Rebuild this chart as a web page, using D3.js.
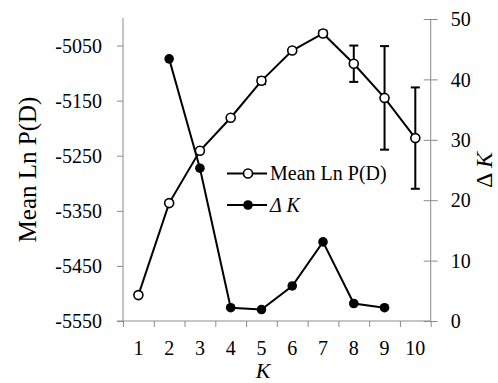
<!DOCTYPE html>
<html>
<head>
<meta charset="utf-8">
<script src="https://cdn.jsdelivr.net/npm/d3@7"></script>
<style>
  body { margin: 0; background: #fff; }
  svg text { font-family: "Liberation Serif", Tinos, "Times New Roman", "DejaVu Serif", serif !important; fill: #000; }
</style>
</head>
<body>
<svg id="chart" width="498" height="383"></svg>
<script>
// K-Werte und Daten
const kValues = [1, 2, 3, 4, 5, 6, 7, 8, 9, 10];
const meanLnP = [-5503, -5336, -5241, -5181, -5114, -5059, -5028, -5083, -5145, -5218];
const meanLnPErr = [0, 0, 0, 0, 6, 0, 5, 33, 94, 92];
const deltaK = [null, 43.4, 25.3, 2.2, 1.9, 5.8, 13.1, 2.9, 2.2, null];
const leftTicks = [-5550, -5450, -5350, -5250, -5150, -5050];
const rightTicks = [0, 10, 20, 30, 40, 50];

const svg = d3.select("#chart");
const axisColor = "#8a8a8a";

const x = d3.scaleBand().domain(kValues).range([123, 430.7]);
const xc = k => x(k) + x.bandwidth() / 2;
const yL = d3.scaleLinear().domain([-5550, -5000]).range([321, 18]);
const yR = d3.scaleLinear().domain([0, 50]).range([321, 19]);

// linke Achse
const gL = svg.append("g").attr("transform", "translate(123,0)")
    .call(d3.axisLeft(yL).tickValues(leftTicks).tickSize(6).tickPadding(15).tickFormat(d => d));
gL.attr("font-family", null);
gL.select(".domain").attr("stroke", axisColor).attr("d", `M0,${yL(-5000)}V${yL(-5550)}`);
gL.selectAll(".tick line").attr("stroke", axisColor);
gL.selectAll(".tick text").style("font-size", "20px").attr("dy", "0.33em");

// rechte Achse
const gR = svg.append("g").attr("transform", "translate(430.7,0)")
    .call(d3.axisRight(yR).tickValues(rightTicks).tickSize(7).tickPadding(13));
gR.attr("font-family", null);
gR.select(".domain").attr("stroke", axisColor).attr("d", `M0,${yR(50)}V${yR(0)}`);
gR.selectAll(".tick line").attr("stroke", axisColor).attr("x1", -7);
gR.selectAll(".tick text").style("font-size", "20px").attr("dy", "0.33em");

// x-Achse
const xLin = d3.scaleLinear().domain([0, 10]).range([123, 430.7]);
const gX = svg.append("g").attr("transform", "translate(0,321)")
    .call(d3.axisBottom(xLin).tickValues(d3.range(0, 11)).tickSize(6).tickFormat(""));
gX.select(".domain").attr("stroke", axisColor).attr("d", "M117,0H430.7");
gX.selectAll(".tick line").attr("stroke", axisColor);

const gXL = svg.append("g").attr("transform", "translate(0,321)")
    .call(d3.axisBottom(x).tickSize(0).tickPadding(20));
gXL.attr("font-family", null);
gXL.select(".domain").remove();
gXL.selectAll(".tick text").style("font-size", "20px");

// Achsentitel
svg.append("text")
    .attr("transform", `translate(36,${(18 + 321) / 2}) rotate(-90)`)
    .attr("text-anchor", "middle")
    .style("font-size", "25px")
    .text("Mean Ln P(D)");

svg.append("text")
    .attr("transform", `translate(492,170) rotate(-90)`)
    .attr("text-anchor", "middle")
    .style("font-size", "24px")
    .html('Δ <tspan font-style="italic">K</tspan>');

svg.append("text")
    .attr("x", 263).attr("y", 378)
    .attr("text-anchor", "middle")
    .style("font-size", "22px")
    .style("font-style", "italic")
    .text("K");

// Fehlerbalken
const errData = kValues.map((k, i) => ({ k, v: meanLnP[i], e: meanLnPErr[i] })).filter(d => d.e > 0);
const eb = svg.append("g").attr("stroke", "#000").attr("stroke-width", 2);
errData.forEach(d => {
    const cx = xc(d.k);
    eb.append("line").attr("x1", cx).attr("x2", cx).attr("y1", yL(d.v + d.e)).attr("y2", yL(d.v - d.e));
    eb.append("line").attr("x1", cx - 4.5).attr("x2", cx + 4.5).attr("y1", yL(d.v + d.e)).attr("y2", yL(d.v + d.e));
    eb.append("line").attr("x1", cx - 4.5).attr("x2", cx + 4.5).attr("y1", yL(d.v - d.e)).attr("y2", yL(d.v - d.e));
});

// Linien
const lnData = kValues.map((k, i) => ({ k, v: meanLnP[i] }));
const dkData = kValues.map((k, i) => ({ k, v: deltaK[i] })).filter(d => d.v !== null);

svg.append("path").datum(lnData)
    .attr("fill", "none").attr("stroke", "#000").attr("stroke-width", 2)
    .attr("d", d3.line().x(d => xc(d.k)).y(d => yL(d.v)));
svg.append("path").datum(dkData)
    .attr("fill", "none").attr("stroke", "#000").attr("stroke-width", 2)
    .attr("d", d3.line().x(d => xc(d.k)).y(d => yR(d.v)));

svg.append("g").selectAll("circle").data(lnData).enter().append("circle")
    .attr("cx", d => xc(d.k)).attr("cy", d => yL(d.v)).attr("r", 4.5)
    .attr("fill", "#fff").attr("stroke", "#000").attr("stroke-width", 1.6);
svg.append("g").selectAll("circle").data(dkData).enter().append("circle")
    .attr("cx", d => xc(d.k)).attr("cy", d => yR(d.v)).attr("r", 4.8)
    .attr("fill", "#000");

// Legende
const leg = svg.append("g");
leg.append("line").attr("x1", 227).attr("x2", 267).attr("y1", 173.5).attr("y2", 173.5)
    .attr("stroke", "#000").attr("stroke-width", 2);
leg.append("circle").attr("cx", 248).attr("cy", 173.5).attr("r", 4.5)
    .attr("fill", "#fff").attr("stroke", "#000").attr("stroke-width", 1.6);
leg.append("text").attr("x", 270).attr("y", 180).style("font-size", "20px").text("Mean Ln P(D)");
leg.append("line").attr("x1", 227).attr("x2", 267).attr("y1", 205).attr("y2", 205)
    .attr("stroke", "#000").attr("stroke-width", 2);
leg.append("circle").attr("cx", 248).attr("cy", 205).attr("r", 4.8).attr("fill", "#000");
leg.append("text").attr("x", 270).attr("y", 211.5).style("font-size", "20px")
    .style("font-style", "italic").text("Δ K");
</script>
</body>
</html>
